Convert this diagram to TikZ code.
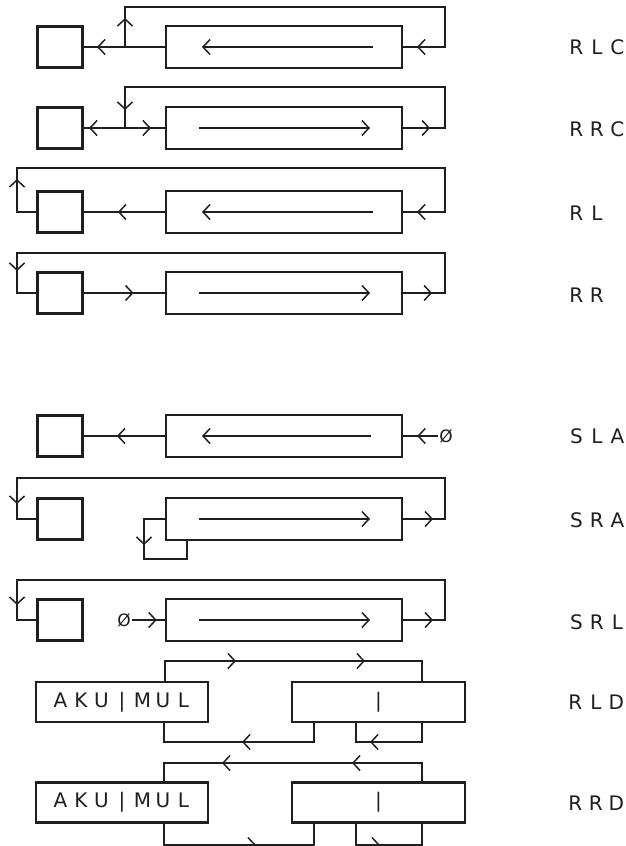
\documentclass[tikz,border=0pt]{standalone}
\usepackage{fontspec}
\setmainfont{DejaVu Sans}
\usetikzlibrary{arrows.meta,decorations.markings}
\newcommand\monotxt[1]{\monoi#1\relax}
\def\monoi#1{\ifx#1\relax\else\hbox to 20.5pt{\hss#1\hss}\expandafter\monoi\fi}
\begin{document}
\begin{tikzpicture}[x=1pt,y=-1pt,
  line width=2.2pt, line cap=rect, color=black!88,
  >={Straight Barb[length=7pt,width=15pt,line width=1.5pt]},
  ma/.style={postaction={decorate,decoration={markings,mark=at position #1 with {\arrow{>}}}}},
  sb/.style={draw,line width=2.2pt,inner sep=0pt,minimum width=45pt,minimum height=41pt},
  bb/.style={draw,line width=2.2pt,inner sep=0pt,minimum width=236pt,minimum height=42pt},
  wb/.style={draw,line width=2.2pt,inner sep=0pt,minimum width=172pt,minimum height=40pt,font=\fontsize{20}{20}\selectfont},
  lbl/.style={anchor=west,inner sep=0pt,font=\fontsize{20}{20}\selectfont},
  zer/.style={inner sep=1pt,font=\fontsize{17}{17}\selectfont}]
\useasboundingbox[fill=white] (0,0) rectangle (626,846);
% RLC
\node[sb] (s1) at (60,47) {};
\node[bb] (b1) at (284,47) {};
\node[lbl] (l1) at (565,47) {\monotxt{RLC}};
\coordinate (j1) at (125,47);
\coordinate (u1) at (125,7);
\coordinate (v1) at (445,7);
\coordinate (r1) at (445,47);
\draw (b1.west) -- (j1);
\draw[ma=28pt] (j1) -- (s1.east);
\draw[ma=29pt] (j1) -- (u1);
\draw (u1) -- (v1) -- (r1);
\draw[ma=28pt] (r1) -- (b1.east);
\draw[->] ([xshift=88pt]b1.center) -- ([xshift=-82pt]b1.center);
% RRC
\node[sb] (s2) at (60,128) {};
\node[bb] (b2) at (284,128) {};
\node[lbl] (l2) at (565,129) {\monotxt{RRC}};
\coordinate (j2) at (125,128);
\coordinate (u2) at (125,87);
\coordinate (v2) at (445,87);
\coordinate (r2) at (445,128);
\draw[ma=36pt] (j2) -- (s2.east);
\draw[ma=26pt] (j2) -- (b2.west);
\draw[ma=23pt] (u2) -- (j2);
\draw[ma=27pt] (b2.east) -- (r2);
\draw (r2) -- (v2) -- (u2);
\draw[->] ([xshift=-84pt]b2.center) -- ([xshift=86pt]b2.center);
% RL
\node[sb] (s3) at (60,212) {};
\node[bb] (b3) at (284,212) {};
\node[lbl] (l3) at (565,213) {\monotxt{RL}};
\coordinate (a3) at (17,212);
\coordinate (u3) at (17,168);
\coordinate (v3) at (445,168);
\coordinate (r3) at (445,212);
\draw[ma=47pt] (b3.west) -- (s3.east);
\draw (s3.west) -- (a3);
\draw[ma=33pt] (a3) -- (u3);
\draw (u3) -- (v3) -- (r3);
\draw[ma=28pt] (r3) -- (b3.east);
\draw[->] ([xshift=88pt]b3.center) -- ([xshift=-82pt]b3.center);
% RR
\node[sb] (s4) at (60,293) {};
\node[bb] (b4) at (284,293) {};
\node[lbl] (l4) at (565,295) {\monotxt{RR}};
\coordinate (a4) at (17,293);
\coordinate (u4) at (17,253);
\coordinate (v4) at (445,253);
\coordinate (r4) at (445,293);
\draw[ma=50pt] (s4.east) -- (b4.west);
\draw[ma=29pt] (b4.east) -- (r4);
\draw (r4) -- (v4) -- (u4);
\draw[ma=18pt] (u4) -- (a4);
\draw (a4) -- (s4.west);
\draw[->] ([xshift=-84pt]b4.center) -- ([xshift=86pt]b4.center);
% SLA
\node[sb] (s5) at (60,436) {};
\node[bb] (b5) at (284,436) {};
\node[lbl] (l5) at (565,436) {\monotxt{SLA}};
\node[zer] (z5) at (446,436) {Ø};
\draw[ma=48pt] (b5.west) -- (s5.east);
\draw[ma=20pt] (z5.west) -- (b5.east);
\draw[->] ([xshift=86pt]b5.center) -- ([xshift=-82pt]b5.center);
% SRA
\node[sb] (s6) at (60,519) {};
\node[bb] (b6) at (284,519) {};
\node[lbl] (l6) at (565,520) {\monotxt{SRA}};
\coordinate (a6) at (17,519);
\coordinate (u6) at (17,478);
\coordinate (v6) at (445,478);
\coordinate (r6) at (445,519);
\draw[ma=30pt] (b6.east) -- (r6);
\draw (r6) -- (v6) -- (u6);
\draw[ma=26pt] (u6) -- (a6);
\draw (a6) -- (s6.west);
\coordinate (c6) at (144,519);
\coordinate (d6) at (144,559);
\coordinate (e6) at (187,559);
\draw (b6.west) -- (c6);
\draw[ma=26pt] (c6) -- (d6);
\draw (d6) -- (e6) -- (e6 |- b6.south);
\draw[->] ([xshift=-84pt]b6.center) -- ([xshift=86pt]b6.center);
% SRL
\node[sb] (s7) at (60,620) {};
\node[bb] (b7) at (284,620) {};
\node[lbl] (l7) at (565,622) {\monotxt{SRL}};
\node[zer] (z7) at (124,620) {Ø};
\coordinate (a7) at (17,620);
\coordinate (u7) at (17,580);
\coordinate (v7) at (445,580);
\coordinate (r7) at (445,620);
\draw[ma=24pt] (z7.east) -- (b7.west);
\draw[ma=30pt] (b7.east) -- (r7);
\draw (r7) -- (v7) -- (u7);
\draw[ma=25pt] (u7) -- (a7);
\draw (a7) -- (s7.west);
\draw[->] ([xshift=-84pt]b7.center) -- ([xshift=86pt]b7.center);
% RLD
\node[wb] (k8) at (122,702) {\monotxt{AKU|MUL}};
\node[wb,minimum width=173pt] (i8) at (378.5,702) {|};
\node[lbl] (l8) at (564,702) {\monotxt{RLD}};
\coordinate (p8) at (165,661);
\coordinate (q8) at (422,661);
\draw (p8 |- k8.north) -- (p8);
\draw[ma=71pt,ma=200pt] (p8) -- (q8);
\draw (q8) -- (q8 |- i8.north);
\coordinate (m8) at (314,742);
\coordinate (n8) at (164,742);
\draw (m8 |- i8.south) -- (m8);
\draw[ma=72pt] (m8) -- (n8);
\draw (n8) -- (n8 |- k8.south);
\coordinate (o8) at (422,742);
\coordinate (w8) at (356,742);
\draw (o8 |- i8.south) -- (o8);
\draw[ma=52pt] (o8) -- (w8);
\draw (w8) -- (w8 |- i8.south);
% RRD
\node[wb] (k9) at (122,802.5) {\monotxt{AKU|MUL}};
\node[wb,minimum width=173pt] (i9) at (378.5,802.5) {|};
\node[lbl] (l9) at (564,803) {\monotxt{RRD}};
\coordinate (p9) at (422,763);
\coordinate (q9) at (164,763);
\draw (p9 |- i9.north) -- (p9);
\draw[ma=70pt,ma=200pt] (p9) -- (q9);
\draw (q9) -- (q9 |- k9.north);
\coordinate (m9) at (164,845);
\coordinate (n9) at (314,845);
\draw (m9 |- k9.south) -- (m9);
\draw[ma=92pt] (m9) -- (n9);
\draw (n9) -- (n9 |- i9.south);
\coordinate (o9) at (356,845);
\coordinate (w9) at (422,845);
\draw (o9 |- i9.south) -- (o9);
\draw[ma=24pt] (o9) -- (w9);
\draw (w9) -- (w9 |- i9.south);
\end{tikzpicture}
\end{document}
